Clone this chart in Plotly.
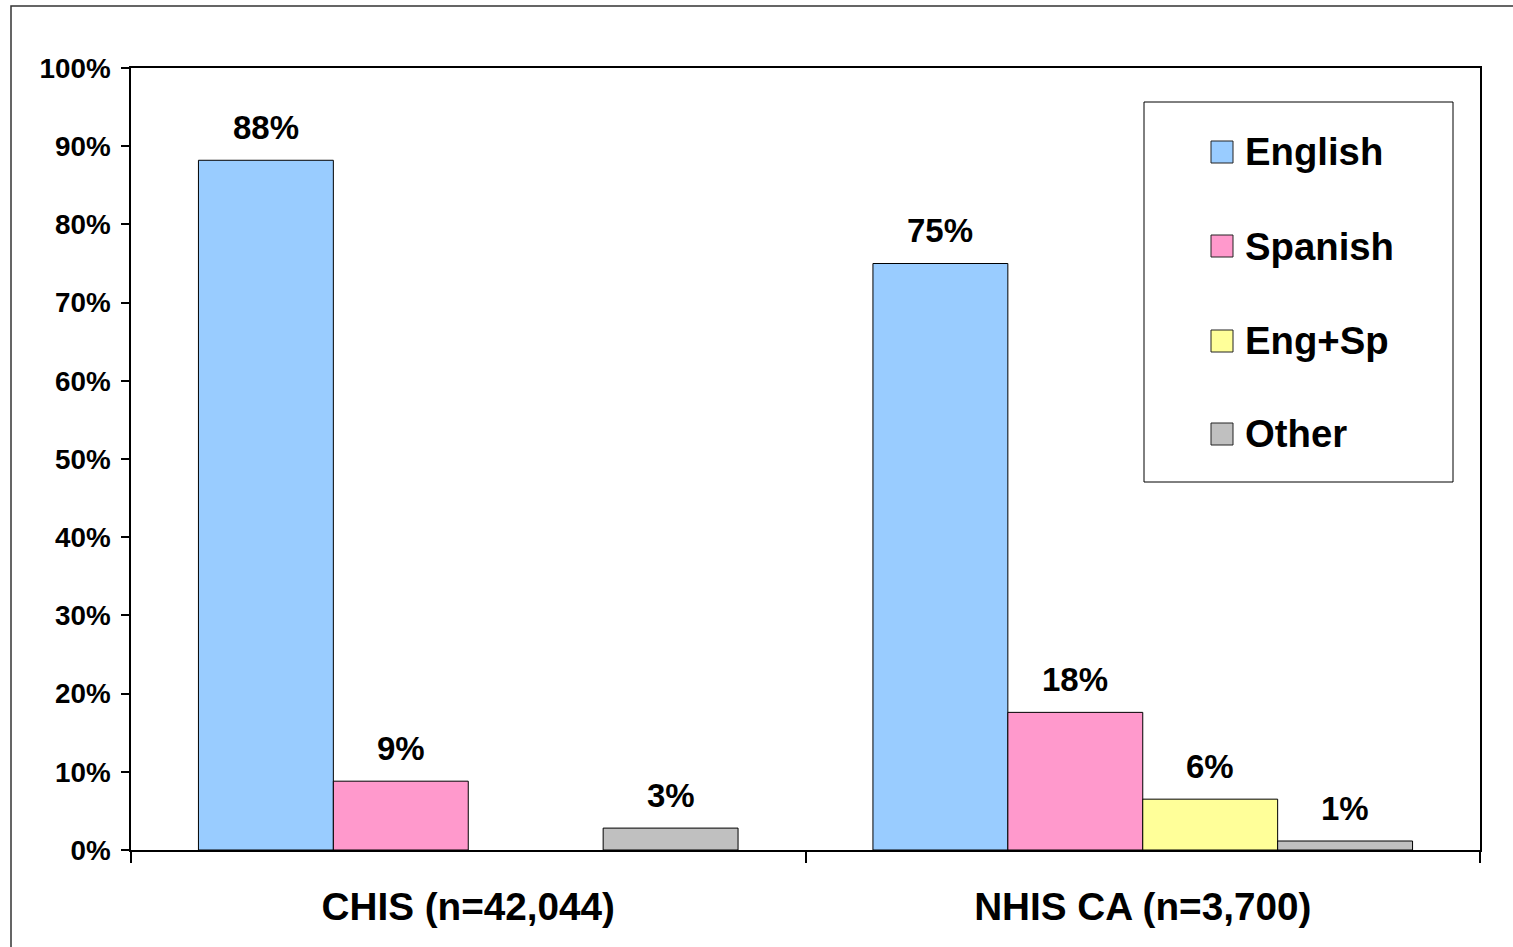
import plotly.graph_objects as go

categories = ["CHIS (n=42,044)", "NHIS CA (n=3,700)"]
series_names = ["English", "Spanish", "Eng+Sp", "Other"]
english = [88.2, 75.0]
spanish = [8.8, 17.6]
eng_sp = [None, 6.5]
other = [2.8, 1.15]
english_lbl = ["88%", "75%"]
spanish_lbl = ["9%", "18%"]
eng_sp_lbl = ["", "6%"]
other_lbl = ["3%", "1%"]
y_ticks = list(range(0, 101, 10))
y_tick_text = [f"{v}%" for v in y_ticks]

colors = ["#99CCFF", "#FF99CC", "#FFFF99", "#C0C0C0"]
values = [english, spanish, eng_sp, other]
labels = [english_lbl, spanish_lbl, eng_sp_lbl, other_lbl]

W, H = 1513, 947
L, R, T, B = 131, 1480, 68, 850
FONT = "Liberation Sans, Arial, sans-serif"
BARGAP = 0.2


def px_x(p):
    return (p - L) / (R - L)


def px_y(p):
    return (B - p) / (B - T)


fig = go.Figure()
annotations = []
n_series = len(series_names)
slot = (1 - BARGAP) / n_series
for si, (name, vals, lbls, col) in enumerate(zip(series_names, values, labels, colors)):
    fig.add_trace(go.Bar(
        name=name, x=categories, y=vals,
        marker=dict(color=col, line=dict(color="black", width=1)),
        showlegend=False,
    ))
    for ci, (v, l) in enumerate(zip(vals, lbls)):
        if v is None or not l:
            continue
        annotations.append(dict(
            xref="x", yref="y", x=ci + (si - (n_series - 1) / 2) * slot, y=v,
            text=l, showarrow=False, xanchor="center", yanchor="middle", yshift=33,
            font=dict(family=FONT, size=33, color="black", weight="bold")))

shapes = []
# outer frame
shapes.append(dict(type="rect", xref="paper", yref="paper",
                   x0=px_x(11), x1=px_x(1530), y0=px_y(6), y1=px_y(970),
                   line=dict(color="#333333", width=1.5), fillcolor="rgba(0,0,0,0)", layer="below"))
# legend box
shapes.append(dict(type="rect", xref="paper", yref="paper",
                   x0=px_x(1144), x1=px_x(1453), y0=px_y(102), y1=px_y(482),
                   line=dict(color="black", width=1), fillcolor="white"))
leg_y = [152, 246, 341, 434]
for name, col, cy in zip(series_names, colors, leg_y):
    shapes.append(dict(type="rect", xref="paper", yref="paper",
                       x0=px_x(1211), x1=px_x(1233), y0=px_y(cy - 11), y1=px_y(cy + 11),
                       line=dict(color="#222222", width=1), fillcolor=col))
    annotations.append(dict(xref="paper", yref="paper", x=px_x(1243), y=px_y(cy),
                            xanchor="left", yanchor="middle", showarrow=False, text=name,
                            font=dict(family=FONT, size=38.3, color="black", weight="bold")))

fig.update_layout(
    width=W, height=H,
    margin=dict(l=L, r=W - R, t=T, b=H - B),
    paper_bgcolor="white", plot_bgcolor="white",
    barmode="group", bargap=BARGAP, bargroupgap=0,
    shapes=shapes, annotations=annotations,
    showlegend=False,
)
fig.update_xaxes(
    showline=True, linecolor="black", linewidth=1.5, mirror=True,
    ticks="outside", tickson="boundaries", ticklen=11, tickcolor="black", tickwidth=1.5,
    tickfont=dict(family=FONT, size=38.7, color="black", weight="bold"),
    showgrid=False, ticklabelstandoff=22,
)
fig.update_yaxes(
    range=[0, 100], tickvals=y_ticks, ticktext=y_tick_text,
    showline=True, linecolor="black", linewidth=1.5, mirror=True,
    ticks="outside", ticklen=8, tickcolor="black", tickwidth=1.5,
    tickfont=dict(family=FONT, size=27.8, color="black", weight="bold"),
    showgrid=False, zeroline=False, ticklabelstandoff=5,
)

fig.write_html("out.html")
